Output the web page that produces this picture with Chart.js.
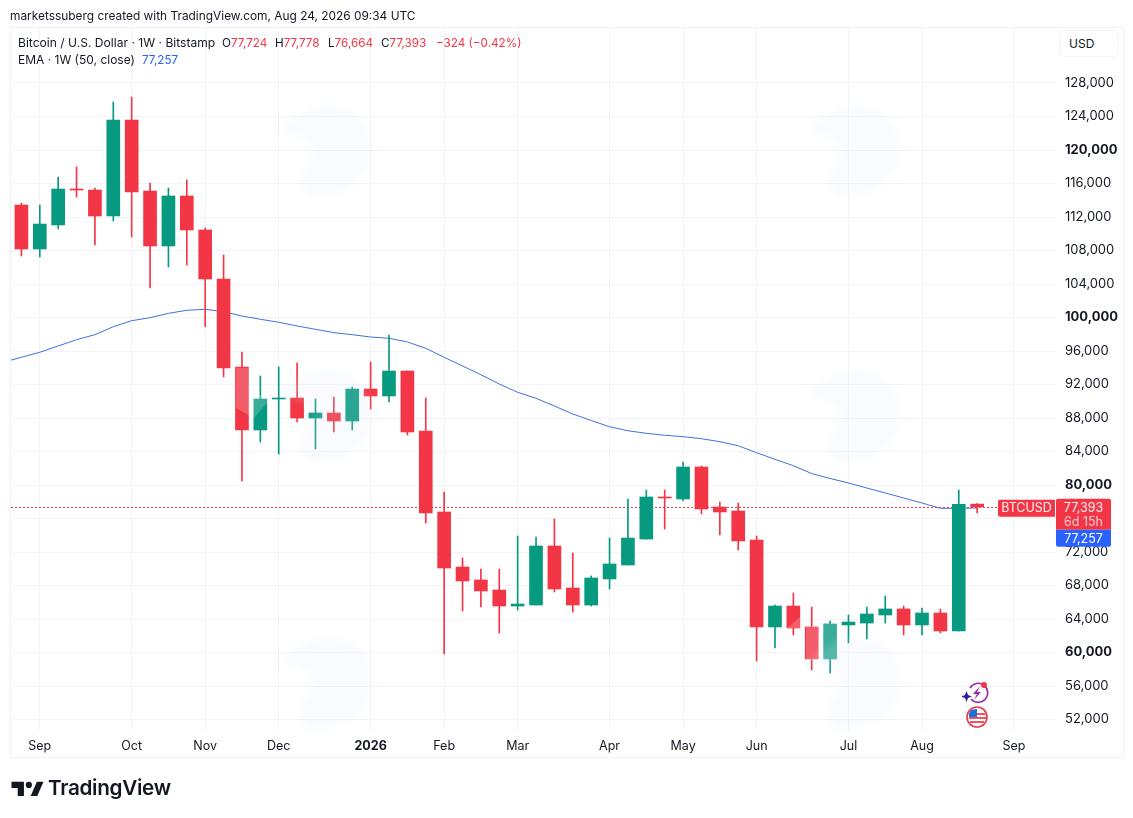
<!DOCTYPE html>
<html>
<head>
<meta charset="utf-8">
<title>BTCUSD</title>
<script src="https://cdn.jsdelivr.net/npm/chart.js@4"></script>
<style>
  html, body { margin: 0; padding: 0; background: #fff; }
  body { width: 1133px; height: 818px; position: relative; overflow: hidden; font-family: Inter, sans-serif; color: #131722; }
  canvas { position: absolute; left: 0; top: 0; }
  .frame { position: absolute; left: 10px; top: 27px; width: 1112px; height: 729px; border: 1px solid #f0f1f4; }
  .txt { position: absolute; font-size: 11.7px; line-height: 16px; white-space: nowrap; }
  .red { color: #f23645; }
  .blue { color: #2962ff; }
  .usd { position: absolute; left: 1059px; top: 30px; width: 58px; height: 25px; border: 1px solid #f0f3fa; border-radius: 6px; font-size: 12px; line-height: 25px; text-indent: 9px; background: #fff; }
  .brand { position: absolute; left: 48px; top: 775px; font-size: 20.7px; line-height: 26px; font-weight: 600; letter-spacing: -0.3px; color: #131722; }
  svg { position: absolute; }
</style>
</head>
<body>
<canvas id="chart" width="1133" height="818"></canvas>
<div class="frame"></div>
<div class="txt" style="left:10px;top:8px;font-size:11.9px">marketssuberg created with TradingView.com, Aug 24, 2026 09:34 UTC</div>
<div class="txt" style="left:18px;top:35px;font-size:12.1px">Bitcoin / U.S. Dollar · 1W · Bitstamp</div>
<div class="txt" style="left:222px;top:35px">O<span class="red">77,724</span></div>
<div class="txt" style="left:275px;top:35px">H<span class="red">77,778</span></div>
<div class="txt" style="left:328px;top:35px">L<span class="red">76,664</span></div>
<div class="txt" style="left:381px;top:35px">C<span class="red">77,393</span></div>
<div class="txt red" style="left:436px;top:35px">−324 (−0.42%)</div>
<div class="txt" style="left:18px;top:52px;font-size:12px">EMA · 1W (50, close)</div>
<div class="txt blue" style="left:142px;top:52px">77,257</div>
<div class="usd">USD</div>

<svg style="left:962px;top:680px" width="28" height="48" viewBox="0 0 28 48">
  <path d="M8 8 A9.5 9.5 0 1 1 9 19" fill="none" stroke="#9c27b0" stroke-width="1.6"/>
  <path d="M18 6 L11 14 L15 14 L12 20 L19 12 L15 12 Z" fill="#9c27b0"/>
  <circle cx="22" cy="5" r="3" fill="#f23645"/>
  <path d="M4.5 11 L6 15 L10 16.5 L6 18 L4.5 22 L3 18 L-1 16.5 L3 15 Z" fill="#311b92"/>
  <circle cx="15" cy="37" r="10" fill="#fff" stroke="#e53945" stroke-width="1.6"/>
  <path d="M7 33 H23 V35 H7 Z M7 37 H24 V39 H7 Z M8 41 H22 V43 H8 Z" fill="#ef5360"/>
  <path d="M8 31 Q10 29 15 29 V37 H7 Q7 33 8 31 Z" fill="#1e6fd9"/>
</svg>

<svg style="left:11px;top:780px" width="33" height="16" viewBox="0 0 36 18">
  <path d="M14 2 H0 V9 H7 V18 H14 Z" fill="#131722"/>
  <circle cx="19.5" cy="5.5" r="3.5" fill="#131722"/>
  <path d="M28.5 2 H36 L29 18 H21.5 Z" fill="#131722"/>
</svg>
<div class="brand">TradingView</div>

<script>
// weekly candles
const opens = [113430, 108180, 111050, 115340, 115220, 112120, 123580, 115100, 108540, 114510, 110450, 104600, 94090, 86570, 90270, 90390, 88000, 88600, 87640, 91460, 90630, 93610, 86450, 76780, 70210, 68660, 67460, 65550, 65670, 72720, 67700, 65670, 68780, 70450, 73550, 78570, 78330, 82150, 77370, 76900, 73430, 63050, 65550, 63050, 59230, 63290, 63520, 64480, 65200, 63290, 64720, 62570, 77724];
const highs = [113670, 113430, 116780, 117970, 115460, 125730, 126330, 116060, 115460, 116420, 110690, 107460, 95880, 93020, 94090, 94570, 90270, 90510, 91700, 94690, 97910, 93610, 90390, 79170, 71290, 69970, 69970, 73910, 73790, 75940, 71880, 69140, 73670, 78330, 79400, 79400, 82750, 82270, 77970, 77850, 73910, 65670, 67110, 65430, 63760, 64480, 65430, 66750, 65550, 65320, 65200, 79400, 77778];
const lows = [107340, 107220, 110570, 114390, 108660, 111520, 109610, 103520, 106030, 106270, 98900, 92900, 80480, 85140, 83700, 87520, 84300, 86330, 86570, 89080, 89910, 85970, 75460, 59820, 64960, 65430, 62330, 65080, 65670, 67230, 64840, 65550, 67580, 70450, 73550, 74750, 78090, 76540, 74030, 72240, 58990, 60540, 62090, 57910, 57550, 61140, 61610, 63520, 62090, 62090, 62330, 62570, 76664];
const closes = [108180, 111160, 115340, 115220, 112120, 123580, 114990, 108540, 114510, 110450, 104600, 93970, 86570, 90270, 90390, 88000, 88600, 87640, 91460, 90630, 93610, 86330, 76660, 70090, 68540, 67350, 65550, 65790, 72720, 67580, 65670, 68900, 70570, 73670, 78570, 78450, 82150, 77140, 76780, 73320, 63050, 65550, 62930, 59230, 63410, 63640, 64600, 65200, 63290, 64720, 62570, 77700, 77393];
// EMA starts one week before the first candle, it runs off the left edge
const emaValues = [94650, 95250, 95850, 96600, 97350, 97950, 98900, 99620, 99980, 100500, 100860, 100980, 100690, 100180, 99790, 99430, 98990, 98590, 98190, 97950, 97670, 97520, 97080, 96320, 95250, 94210, 93170, 92060, 91070, 90350, 89430, 88480, 87700, 86960, 86480, 86170, 85940, 85770, 85530, 85170, 84690, 83860, 83070, 82310, 81370, 80780, 80240, 79640, 79050, 78450, 77850, 77220, 77220, 77257];
const yTicks = [52000, 56000, 60000, 64000, 68000, 72000, 76000, 80000, 84000, 88000, 92000, 96000, 100000, 104000, 108000, 112000, 116000, 120000, 124000, 128000];
const boldTicks = [60000, 80000, 100000, 120000];
const monthWeeks = [1, 6, 10, 14, 19, 23, 27, 32, 36, 40, 45, 49, 54];
const monthLabels = ['Sep', 'Oct', 'Nov', 'Dec', '2026', 'Feb', 'Mar', 'Apr', 'May', 'Jun', 'Jul', 'Aug', 'Sep'];
const lastClose = 77393;
const lastEma = 77257;

const UP = '#089981';
const DOWN = '#f23645';
const candleColors = closes.map((c, i) => (c >= opens[i] ? UP : DOWN));

Chart.defaults.font.family = 'Inter, sans-serif';

function roundBox(ctx, x, y, w, h, r, color) {
  ctx.fillStyle = color;
  ctx.beginPath();
  ctx.roundRect(x, y, w, h, r);
  ctx.fill();
}

// faint hawk watermark, x/y is the top left corner
function hawk(ctx, x, y) {
  ctx.beginPath();
  ctx.moveTo(x, y + 25);
  ctx.bezierCurveTo(x + 15, y + 10, x + 30, y, x + 48, y);
  ctx.bezierCurveTo(x + 75, y, x + 92, y + 20, x + 92, y + 45);
  ctx.bezierCurveTo(x + 92, y + 70, x + 70, y + 90, x + 35, y + 92);
  ctx.bezierCurveTo(x + 25, y + 92, x + 20, y + 85, x + 22, y + 70);
  ctx.bezierCurveTo(x + 25, y + 60, x + 35, y + 52, x + 32, y + 42);
  ctx.bezierCurveTo(x + 28, y + 32, x + 15, y + 30, x, y + 25);
  ctx.closePath();
  ctx.fill();
}

function patch(ctx, pts) {
  ctx.beginPath();
  pts.forEach((p, i) => (i ? ctx.lineTo(p[0], p[1]) : ctx.moveTo(p[0], p[1])));
  ctx.closePath();
  ctx.fill();
}

const dottedLine = {
  id: 'dottedLine',
  beforeDatasetsDraw(chart) {
    const ctx = chart.ctx;
    const y = Math.round(chart.scales.y.getPixelForValue(lastClose)) + 0.5;
    ctx.save();
    ctx.strokeStyle = DOWN;
    ctx.lineWidth = 1;
    ctx.setLineDash([2, 2]);
    ctx.beginPath();
    ctx.moveTo(chart.chartArea.left, y);
    ctx.lineTo(997, y);
    ctx.stroke();
    ctx.restore();
  }
};

const watermark = {
  id: 'watermark',
  afterDatasetsDraw(chart) {
    const ctx = chart.ctx;
    ctx.save();
    ctx.filter = 'blur(3px)';
    ctx.fillStyle = 'rgba(215,230,250,0.16)';
    [280, 808].forEach(x => [105, 370, 637].forEach(y => hawk(ctx, x, y)));
    ctx.filter = 'none';
    // the mark shows stronger where it crosses a candle
    ctx.fillStyle = 'rgba(255,255,255,0.2)';
    patch(ctx, [[236, 368], [250, 368], [250, 395], [267, 395], [267, 403], [254, 418], [236, 408]]);
    patch(ctx, [[806, 627], [838, 622], [838, 660], [806, 660]]);
    patch(ctx, [[787, 628], [800, 628], [800, 617]]);
    ctx.restore();
  }
};

const priceTags = {
  id: 'priceTags',
  afterDraw(chart) {
    const ctx = chart.ctx;
    const y = chart.scales.y.getPixelForValue(lastClose);
    ctx.save();
    ctx.textBaseline = 'middle';
    ctx.font = '12.5px Inter, sans-serif';
    roundBox(ctx, 998, y - 7, 57, 17, [2, 0, 0, 2], DOWN);
    roundBox(ctx, 1056, y - 8, 55, 31, [2, 2, 0, 0], DOWN);
    roundBox(ctx, 1056, y + 23, 55, 17, [0, 0, 2, 2], '#2962ff');
    ctx.textAlign = 'center';
    ctx.fillStyle = 'rgba(255,255,255,0.92)';
    ctx.fillText('BTCUSD', 1026.5, y + 1.5);
    ctx.fillText(lastClose.toLocaleString('en-US'), 1083.5, y + 1);
    ctx.fillStyle = 'rgba(255,255,255,0.75)';
    ctx.fillText('6d 15h', 1083.5, y + 15);
    ctx.fillStyle = '#fff';
    ctx.fillText(lastEma.toLocaleString('en-US'), 1083.5, y + 32);
    ctx.restore();
  }
};

new Chart(document.getElementById('chart'), {
  type: 'bar',
  data: {
    datasets: [
      {
        label: 'Bodies',
        data: opens.map((o, i) => ({ x: i, y: [o, closes[i]] })),
        backgroundColor: candleColors,
        barThickness: 13,
        grouped: false,
        order: 1
      },
      {
        label: 'Wicks',
        data: lows.map((l, i) => ({ x: i, y: [l, highs[i]] })),
        backgroundColor: candleColors,
        barThickness: 1,
        grouped: false,
        order: 2
      },
      {
        type: 'line',
        label: 'EMA',
        data: emaValues.map((v, i) => ({ x: i - 1, y: v })),
        borderColor: '#3f6fe0',
        borderWidth: 1,
        pointRadius: 0,
        tension: 0,
        order: 3
      }
    ]
  },
  options: {
    responsive: false,
    animation: false,
    layout: { padding: { left: 11, right: 10, top: 28, bottom: 61 } },
    plugins: { legend: { display: false }, tooltip: { enabled: false } },
    scales: {
      x: {
        type: 'linear',
        offset: false,
        min: -0.566,
        max: 56.29,
        grid: { color: '#f2f3f6', drawTicks: false, offset: false },
        border: { display: false },
        afterBuildTicks: scale => { scale.ticks = monthWeeks.map(v => ({ value: v })); },
        afterFit: scale => { scale.height = 27; },
        ticks: {
          autoSkip: false,
          maxRotation: 0,
          padding: 9,
          color: '#131722',
          callback: (value) => monthLabels[monthWeeks.indexOf(value)],
          font: ctx => ({ size: 12.5, weight: ctx.tick && ctx.tick.value === 19 ? '700' : '400' })
        }
      },
      y: {
        position: 'right',
        min: 50748,
        max: 134567,
        grid: { color: '#f2f3f6', drawTicks: false },
        border: { display: false },
        afterBuildTicks: scale => { scale.ticks = yTicks.map(v => ({ value: v })); },
        afterFit: scale => { scale.width = 67; },
        ticks: {
          autoSkip: false,
          padding: 9,
          color: '#131722',
          callback: value => value.toLocaleString('en-US'),
          font: ctx => ({ size: 13, weight: ctx.tick && boldTicks.includes(ctx.tick.value) ? '700' : '400' })
        }
      }
    }
  },
  plugins: [dottedLine, watermark, priceTags]
});
</script>
</body>
</html>
